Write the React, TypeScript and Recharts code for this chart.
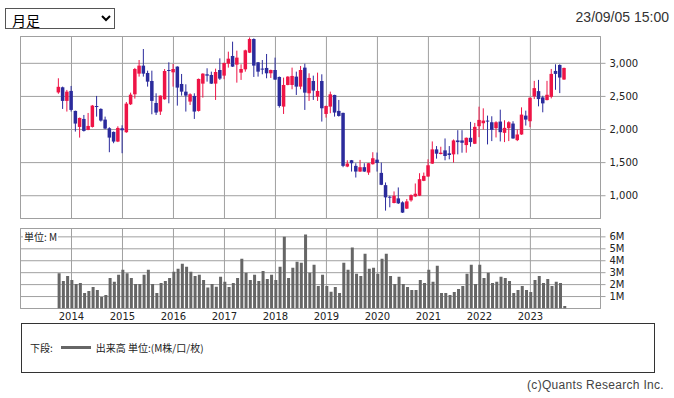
import React from 'react';
import { ComposedChart, Bar, XAxis, YAxis, CartesianGrid, ReferenceArea } from 'recharts';

// Month labels (monthly candles, Oct 2013 .. Sep 2023)
const startYear = 2013;
const startMonth = 10;
const monthCount = 120;

const opens = [
  2560, 2638, 2432, 2583, 2281, 2039, 2160, 1994, 2039, 2355, 2311, 2150,
  2019, 1964, 1818, 2019, 1959, 2381, 2532, 2844, 2965, 2854, 2733, 2401,
  2271, 2457, 2899, 2864, 2950, 2688, 2572, 2422, 2507, 2281, 2693, 2834,
  2824, 2693, 2899, 2814, 2995, 3111, 2980, 2859, 2909, 3161, 3367, 3015,
  2920, 2930, 2849, 2899, 2794, 2346, 2673, 2673, 2799, 2648, 2935, 2547,
  2733, 2497, 2733, 2235, 2346, 2522, 2281, 2251, 1441, 1536, 1451, 1365,
  1431, 1350, 1476, 1545, 1345, 1160, 985, 890, 960, 900, 805, 930,
  990, 1000, 1225, 1290, 1485, 1700, 1630, 1685, 1640, 1625, 1835, 1835,
  1765, 1875, 1785, 2050, 2095, 2135, 2110, 2020, 2120, 1950, 2020, 2090,
  1840, 1925, 2210, 2125, 2500, 2580, 2485, 2445, 2495, 2885, 2975, 2755,
];
const highs = [
  2774, 2648, 2598, 2658, 2285, 2180, 2220, 2250, 2371, 2507, 2321, 2195,
  2034, 1970, 2049, 2064, 2416, 2557, 2930, 3050, 3216, 2889, 2889, 2547,
  2515, 2914, 3015, 2990, 2955, 2839, 2683, 2547, 2547, 2770, 2850, 2925,
  2874, 2920, 3075, 3010, 3176, 3327, 3191, 2985, 3206, 3390, 3377, 3020,
  3050, 3141, 2905, 3086, 2800, 2784, 2805, 2935, 2874, 2960, 2995, 2849,
  2814, 2859, 2834, 2360, 2572, 2525, 2447, 2255, 1536, 1540, 1491, 1541,
  1491, 1495, 1657, 1652, 1500, 1200, 1000, 1065, 1125, 915, 950, 1020,
  1185, 1340, 1350, 1550, 1820, 1750, 1740, 1865, 1750, 1850, 1990, 1990,
  1880, 2115, 2100, 2345, 2320, 2210, 2200, 2125, 2300, 2140, 2125, 2125,
  2000, 2335, 2285, 2485, 2735, 2750, 2510, 2735, 2915, 2985, 2985, 2935,
];
const lows = [
  2540, 2311, 2271, 2271, 1969, 1878, 1969, 1990, 2030, 2195, 2120, 2005,
  1657, 1793, 1810, 1642, 1950, 2370, 2467, 2799, 2799, 2648, 2230, 2220,
  2220, 2450, 2396, 2648, 2361, 2512, 2271, 2371, 2160, 2271, 2482, 2723,
  2688, 2447, 2749, 2760, 2935, 2945, 2708, 2749, 2874, 3155, 2794, 2799,
  2834, 2774, 2779, 2750, 2331, 2235, 2668, 2608, 2522, 2608, 2296, 2432,
  2447, 2432, 2120, 2180, 2246, 2195, 2195, 1431, 1431, 1365, 1275, 1360,
  1360, 1315, 1470, 1365, 1160, 775, 825, 885, 875, 740, 800, 910,
  980, 995, 1220, 1285, 1480, 1560, 1625, 1535, 1550, 1500, 1625, 1650,
  1650, 1740, 1780, 1885, 2000, 1775, 1825, 1880, 1820, 1810, 1825, 1860,
  1825, 1920, 2060, 2035, 2460, 2350, 2260, 2440, 2470, 2600, 2550, 2750,
];
const closes = [
  2645, 2432, 2572, 2296, 2090, 2175, 1979, 2054, 2361, 2345, 2135, 2014,
  1878, 1818, 2024, 1989, 2391, 2527, 2914, 2965, 2844, 2723, 2432, 2256,
  2512, 2884, 2889, 2914, 2633, 2572, 2512, 2532, 2271, 2764, 2844, 2814,
  2693, 2869, 2769, 3005, 3070, 2950, 3086, 2914, 3196, 3367, 2965, 2874,
  2910, 2849, 2899, 2754, 2356, 2673, 2799, 2809, 2648, 2899, 2557, 2779,
  2588, 2582, 2321, 2356, 2532, 2256, 2205, 1451, 1486, 1491, 1365, 1431,
  1365, 1491, 1566, 1495, 1165, 975, 970, 1000, 885, 745, 915, 1010,
  1030, 1250, 1300, 1460, 1700, 1635, 1650, 1600, 1615, 1835, 1810, 1800,
  1875, 1810, 2040, 2145, 2135, 2120, 1995, 2110, 1960, 2025, 2110, 1865,
  1925, 2225, 2150, 2480, 2625, 2460, 2395, 2525, 2840, 2840, 2785, 2930,
];
// Volume in millions of shares
const volumes = [
  2.96, 2.31, 2.73, 2.39, 2.06, 2.14, 1.30, 1.46, 1.80, 1.55, 0.96, 1.13,
  2.56, 2.23, 2.82, 3.24, 2.96, 2.56, 2.06, 2.06, 2.82, 3.24, 2.06, 1.30,
  2.14, 2.31, 2.56, 3.07, 3.32, 3.75, 3.49, 3.07, 2.73, 2.82, 2.39, 1.75,
  2.06, 1.83, 2.65, 2.23, 1.80, 2.14, 2.56, 4.17, 2.99, 2.39, 2.82, 2.31,
  3.15, 2.48, 2.82, 2.39, 3.49, 6.00, 2.56, 3.41, 3.92, 3.83, 6.20, 2.99,
  3.66, 1.89, 2.82, 1.89, 1.40, 1.80, 1.30, 3.83, 3.24, 5.10, 2.90, 2.73,
  4.59, 3.32, 3.41, 2.90, 4.17, 4.59, 2.73, 2.06, 2.65, 2.06, 1.80, 1.55,
  1.55, 2.39, 2.14, 3.24, 2.23, 3.58, 1.30, 1.30, 1.13, 1.38, 1.63, 1.89,
  2.90, 3.66, 2.06, 3.66, 2.56, 2.99, 2.14, 2.23, 2.65, 2.56, 2.31, 1.30,
  1.55, 1.89, 1.55, 1.38, 2.39, 2.73, 2.14, 2.48, 1.89, 2.23, 2.14, 0.20,
];

const yearLabels = ['2014', '2015', '2016', '2017', '2018', '2019', '2020', '2021', '2022', '2023'];
const priceTicks = [1000, 1500, 2000, 2500, 3000];
const volumeTicks = [1, 2, 3, 4, 5, 6];

const RED = '#EE1446';
const BLUE = '#2B2B9C';
const GRID = '#A0A0A0';
const AXIS_FONT = '"DejaVu Sans", Verdana, sans-serif';
const CJK_FONT = '"Noto Sans CJK JP", "DejaVu Sans", sans-serif';

// month index relative to Jan 2014
const monthIndex = (k: number) => (startYear - 2014) * 12 + (startMonth - 1) + k;

const data = Array.from({ length: monthCount }, (_, k) => ({
  t: monthIndex(k),
  open: opens[k],
  high: highs[k],
  low: lows[k],
  close: closes[k],
  range: [lows[k], highs[k]],
  volume: volumes[k],
}));

const yearTicks = yearLabels.map((y) => (Number(y) - 2014) * 12);
const X_DOMAIN: [number, number] = [-12, 124.5];
const PRICE_DOMAIN: [number, number] = [656, 3405];
const VOL_DOMAIN: [number, number] = [0, 6.7];

const Candle = (props: any) => {
  const { x, y, width, height, payload } = props;
  if (payload == null || height == null) return null;
  const { open, close, high, low } = payload;
  const up = close >= open;
  const color = up ? RED : BLUE;
  const cx = x + width / 2;
  const ratio = height / (high - low);
  const yO = y + (high - open) * ratio;
  const yC = y + (high - close) * ratio;
  const top = Math.min(yO, yC);
  const bh = Math.max(1, Math.abs(yO - yC));
  return (
    <g>
      <line x1={cx} x2={cx} y1={y} y2={y + height} stroke={color} strokeWidth={1} />
      <rect x={x} y={top} width={width} height={bh} fill={color} />
    </g>
  );
};

const fmtPrice = (v: number) => v.toLocaleString('en-US');

export default function App() {
  return (
    <div style={{ position: 'absolute', left: 0, top: 0, width: 674, height: 398, background: '#fff', overflow: 'hidden' }}>
      <select
        defaultValue="m"
        style={{
          position: 'absolute', left: 5, top: 8, width: 110, height: 21,
          fontFamily: CJK_FONT, fontSize: 14, border: '1px solid #555', borderRadius: 0,
          background: '#fff', color: '#000', padding: '0 2px',
        }}
      >
        <option value="m">月足</option>
      </select>
      <div style={{ position: 'absolute', right: 5, top: 9, fontFamily: '"Liberation Sans", Arial, sans-serif', fontSize: 14, color: '#333' }}>
        23/09/05 15:00
      </div>

      <div style={{ position: 'absolute', left: 0, top: 0 }}>
        <ComposedChart width={674} height={222} data={data} margin={{ top: 36.5, left: 20.5, right: 13.5, bottom: 3.5 }}>
          <CartesianGrid stroke={GRID} strokeWidth={1} />
          <XAxis dataKey="t" type="number" domain={X_DOMAIN} ticks={yearTicks} hide allowDataOverflow />
          <YAxis
            orientation="right"
            type="number"
            domain={PRICE_DOMAIN}
            ticks={priceTicks}
            interval={0}
            tickFormatter={fmtPrice}
            width={60}
            axisLine={false}
            tickLine={{ stroke: GRID }}
            tickSize={5}
            tickMargin={4}
            tick={{ fontSize: 10, fill: '#222', fontFamily: AXIS_FONT }}
            allowDataOverflow
          />
          <ReferenceArea x1={X_DOMAIN[0]} x2={X_DOMAIN[1]} y1={PRICE_DOMAIN[0]} y2={PRICE_DOMAIN[1]} fill="none" stroke={GRID} ifOverflow="visible" />
          <Bar dataKey="range" barSize={3.5} shape={Candle} isAnimationActive={false} />
        </ComposedChart>
      </div>

      <div style={{ position: 'absolute', left: 0, top: 222 }}>
        <ComposedChart width={674} height={100} data={data} margin={{ top: 6.5, left: 20.5, right: 13.5, bottom: 0 }}>
          <CartesianGrid stroke={GRID} strokeWidth={1} />
          <XAxis
            dataKey="t"
            type="number"
            domain={X_DOMAIN}
            ticks={yearTicks}
            tickFormatter={(v: number) => yearLabels[yearTicks.indexOf(v)]}
            height={13.5}
            axisLine={false}
            tickLine={false}
            tickSize={2}
            tickMargin={2}
            tick={{ fontSize: 10, fill: '#222', fontFamily: AXIS_FONT }}
            allowDataOverflow
            interval={0}
          />
          <YAxis
            orientation="right"
            type="number"
            domain={VOL_DOMAIN}
            ticks={volumeTicks}
            interval={0}
            tickFormatter={(v: number) => `${v}M`}
            width={60}
            axisLine={false}
            tickLine={{ stroke: GRID }}
            tickSize={5}
            tickMargin={4}
            tick={{ fontSize: 10, fill: '#222', fontFamily: AXIS_FONT }}
            allowDataOverflow
          />
          <ReferenceArea x1={X_DOMAIN[0]} x2={X_DOMAIN[1]} y1={VOL_DOMAIN[0]} y2={VOL_DOMAIN[1]} fill="none" stroke={GRID} ifOverflow="visible" />
          <Bar dataKey="volume" barSize={3} fill="#666666" isAnimationActive={false} />
        </ComposedChart>
      </div>

      <div style={{ position: 'absolute', left: 23, top: 231, background: '#fff', fontFamily: CJK_FONT, fontSize: 10, color: '#222', lineHeight: '12px', padding: '0 1px' }}>
        単位: M
      </div>

      <div style={{ position: 'absolute', left: 21, top: 323, width: 632, height: 48, border: '1px solid #333', boxSizing: 'content-box' }}>
        <div style={{ position: 'absolute', left: 8, top: 16, fontFamily: CJK_FONT, fontSize: 10, color: '#222', display: 'flex', alignItems: 'center', whiteSpace: 'nowrap' }}>
          <span>下段:</span>
          <span style={{ display: 'inline-block', width: 30, height: 3, background: '#666', margin: '0 5px 0 8px' }} />
          <span>出来高 単位:(M株/口/枚)</span>
        </div>
      </div>

      <div style={{ position: 'absolute', right: 10, top: 378, fontFamily: '"Liberation Sans", Arial, sans-serif', fontSize: 12, color: '#444', letterSpacing: 0.3 }}>
        (c)Quants Research Inc.
      </div>
    </div>
  );
}
